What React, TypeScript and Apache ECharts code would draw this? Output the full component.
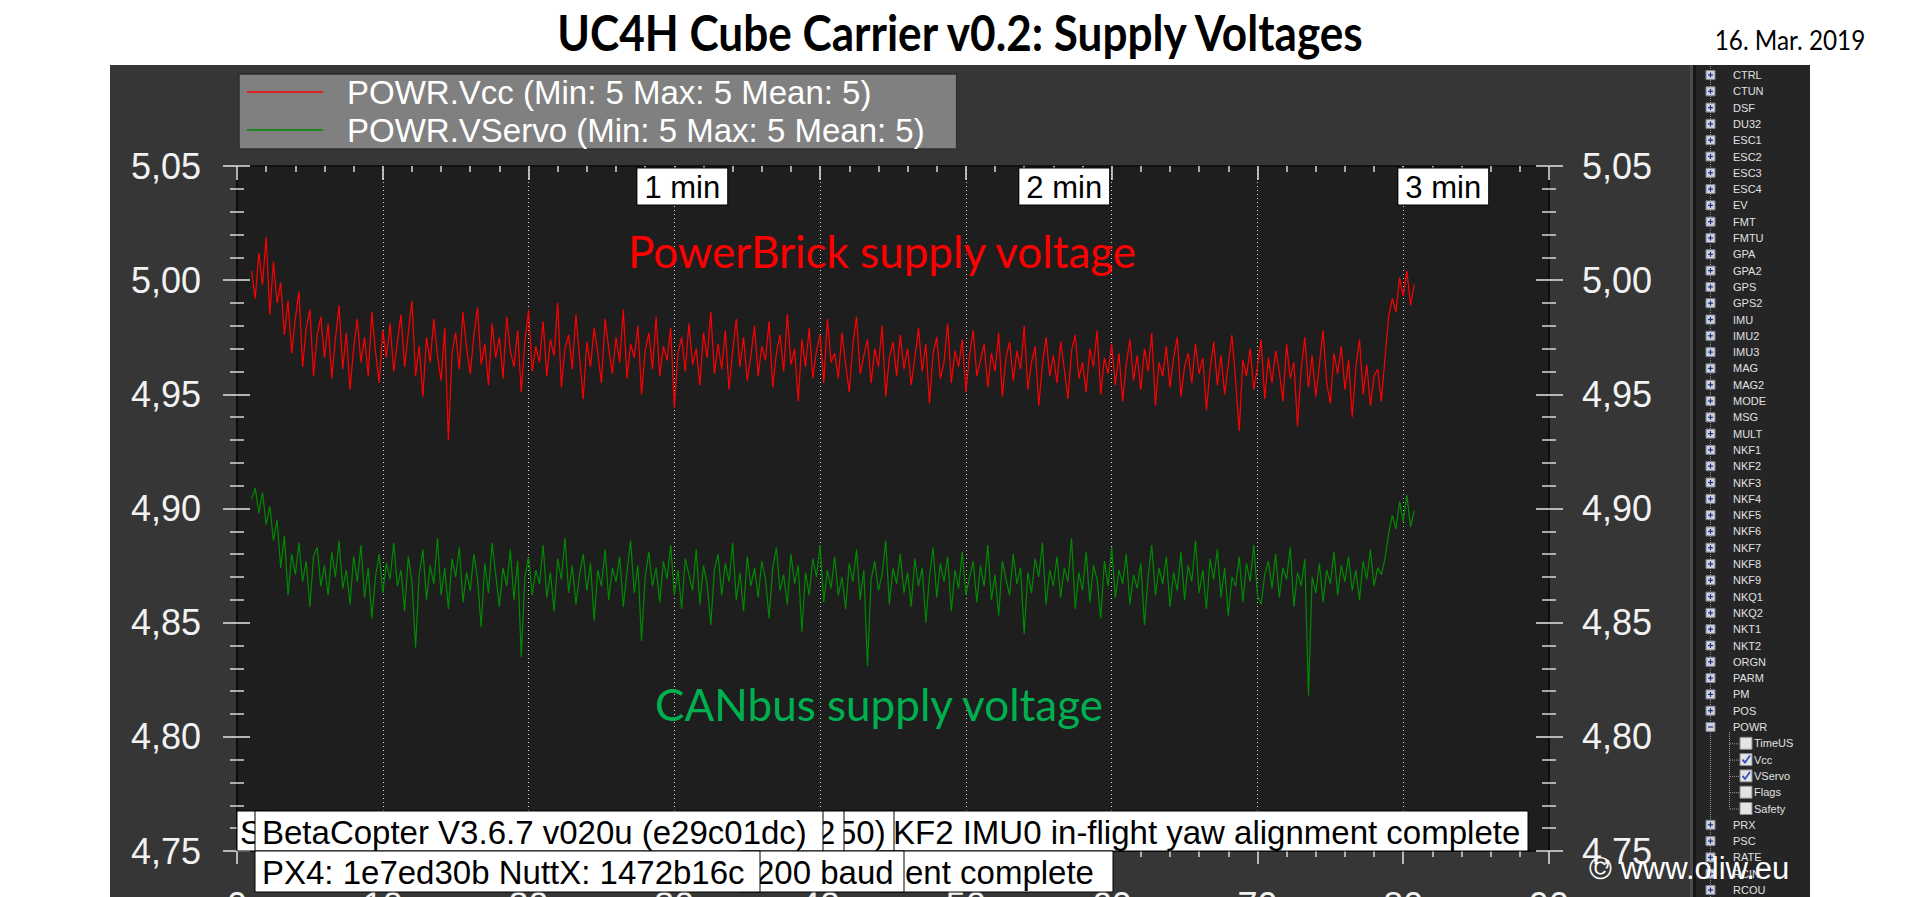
import React, { useEffect, useRef } from 'react';
import * as echarts from 'echarts';

// ---------- DATA ----------
const sampleStartX = 1.0;
const sampleStepX = 0.25;

const vccName = 'POWR.Vcc (Min: 5 Max: 5 Mean: 5)';
const vservoName = 'POWR.VServo (Min: 5 Max: 5 Mean: 5)';

const vccVolts = [
  5.004, 4.992, 5.012, 4.998, 5.019, 4.985, 5.008, 4.990, 4.999, 4.976, 4.991, 4.968, 4.983, 4.995, 4.962, 4.979, 4.987, 4.958, 4.976, 4.984,
  4.966, 4.981, 4.957, 4.974, 4.989, 4.961, 4.977, 4.952, 4.970, 4.983, 4.964, 4.975, 4.958, 4.986, 4.969, 4.955, 4.978, 4.966, 4.981, 4.960,
  4.973, 4.985, 4.962, 4.977, 4.991, 4.958, 4.971, 4.949, 4.975, 4.964, 4.983, 4.967, 4.956, 4.979, 4.930, 4.968, 4.977, 4.961, 4.986, 4.970,
  4.959, 4.976, 4.988, 4.963, 4.972, 4.954, 4.981, 4.966, 4.975, 4.957, 4.984, 4.969, 4.962, 4.978, 4.951, 4.973, 4.987, 4.960, 4.971, 4.964,
  4.982, 4.958, 4.974, 4.967, 4.990, 4.953, 4.970, 4.976, 4.961, 4.985, 4.966, 4.948, 4.973, 4.962, 4.979, 4.968, 4.955, 4.983, 4.970, 4.959,
  4.975, 4.964, 4.987, 4.957, 4.972, 4.966, 4.980, 4.950, 4.969, 4.977, 4.961, 4.984, 4.958, 4.971, 4.965, 4.979, 4.944, 4.968, 4.975, 4.960,
  4.981, 4.963, 4.970, 4.954, 4.977, 4.966, 4.986, 4.959, 4.972, 4.961, 4.978, 4.952, 4.969, 4.983, 4.962, 4.975, 4.956, 4.967, 4.980, 4.958,
  4.971, 4.965, 4.982, 4.953, 4.968, 4.976, 4.960, 4.985, 4.963, 4.970, 4.947, 4.974, 4.962, 4.979, 4.957, 4.969, 4.976, 4.955, 4.983, 4.964,
  4.968, 4.957, 4.977, 4.963, 4.951, 4.972, 4.984, 4.959, 4.967, 4.974, 4.955, 4.970, 4.962, 4.980, 4.949, 4.966, 4.973, 4.958, 4.976, 4.961,
  4.970, 4.954, 4.966, 4.979, 4.960, 4.972, 4.946, 4.968, 4.975, 4.957, 4.964, 4.981, 4.955, 4.969, 4.962, 4.974, 4.951, 4.967, 4.978, 4.958,
  4.965, 4.972, 4.953, 4.968, 4.960, 4.977, 4.949, 4.966, 4.973, 4.956, 4.969, 4.961, 4.980, 4.952, 4.964, 4.971, 4.945, 4.963, 4.975, 4.958,
  4.967, 4.955, 4.973, 4.961, 4.948, 4.969, 4.976, 4.957, 4.964, 4.951, 4.970, 4.962, 4.978, 4.950, 4.966, 4.959, 4.972, 4.954, 4.968, 4.947,
  4.963, 4.974, 4.956, 4.967, 4.952, 4.970, 4.960, 4.977, 4.945, 4.964, 4.958, 4.971, 4.953, 4.966, 4.975, 4.949, 4.962, 4.968, 4.955, 4.972,
  4.959, 4.966, 4.943, 4.961, 4.973, 4.954, 4.967, 4.950, 4.963, 4.976, 4.956, 4.934, 4.965, 4.958, 4.970, 4.952, 4.962, 4.974, 4.948, 4.966,
  4.955, 4.969, 4.960, 4.947, 4.972, 4.957, 4.964, 4.936, 4.961, 4.975, 4.953, 4.967, 4.949, 4.963, 4.978, 4.955, 4.946, 4.968, 4.959, 4.971,
  4.952, 4.965, 4.940, 4.962, 4.974, 4.950, 4.963, 4.945, 4.958, 4.961, 4.947, 4.966, 4.984, 4.992, 4.986, 5.001, 4.993, 5.004, 4.989, 4.998,
];

const vservoVolts = [
  4.904, 4.909, 4.898, 4.907, 4.893, 4.901, 4.886, 4.895, 4.874, 4.888, 4.862, 4.880, 4.871, 4.885, 4.868, 4.877, 4.857, 4.879, 4.883, 4.866,
  4.875, 4.862, 4.881, 4.870, 4.886, 4.865, 4.873, 4.858, 4.879, 4.868, 4.884, 4.861, 4.874, 4.852, 4.870, 4.880, 4.863, 4.876, 4.869, 4.885,
  4.866, 4.873, 4.855, 4.879, 4.868, 4.839, 4.871, 4.882, 4.860, 4.875, 4.867, 4.887, 4.862, 4.874, 4.856, 4.878, 4.870, 4.883, 4.859, 4.872,
  4.864, 4.880, 4.869, 4.848, 4.876, 4.863, 4.885, 4.871, 4.857, 4.874, 4.866, 4.882, 4.860, 4.877, 4.835, 4.870, 4.879, 4.862, 4.873, 4.867,
  4.884, 4.861, 4.872, 4.855, 4.878, 4.869, 4.887, 4.863, 4.875, 4.858, 4.871, 4.880, 4.864, 4.876, 4.851, 4.873, 4.866, 4.882, 4.860, 4.874,
  4.868, 4.879, 4.857, 4.872, 4.886, 4.863, 4.875, 4.842, 4.870, 4.881, 4.866, 4.874, 4.859, 4.877, 4.869, 4.884, 4.862, 4.873, 4.856, 4.878,
  4.871, 4.864, 4.882, 4.858, 4.875, 4.867, 4.849, 4.873, 4.880, 4.862, 4.876, 4.868, 4.885, 4.860, 4.872, 4.855, 4.879, 4.866, 4.874, 4.861,
  4.877, 4.869, 4.852, 4.874, 4.883, 4.864, 4.871, 4.858, 4.880, 4.867, 4.875, 4.846, 4.872, 4.862, 4.878, 4.870, 4.884, 4.859, 4.873, 4.865,
  4.879, 4.862, 4.870, 4.856, 4.876, 4.868, 4.882, 4.860, 4.873, 4.831, 4.869, 4.877, 4.864, 4.871, 4.886, 4.858, 4.874, 4.867, 4.880, 4.863,
  4.872, 4.857, 4.878, 4.866, 4.874, 4.850, 4.870, 4.883, 4.861, 4.876, 4.868, 4.879, 4.855, 4.873, 4.865, 4.881, 4.862, 4.870, 4.877, 4.859,
  4.875, 4.866, 4.884, 4.860, 4.871, 4.853, 4.877, 4.869, 4.862, 4.880, 4.867, 4.874, 4.845, 4.872, 4.863, 4.878, 4.870, 4.885, 4.858, 4.873,
  4.866, 4.879, 4.861, 4.874, 4.868, 4.887, 4.856, 4.872, 4.864, 4.881, 4.859, 4.875, 4.869, 4.852, 4.877, 4.866, 4.883, 4.861, 4.873, 4.867,
  4.880, 4.858, 4.871, 4.865, 4.876, 4.849, 4.870, 4.884, 4.862, 4.874, 4.867, 4.879, 4.857, 4.872, 4.864, 4.881, 4.860, 4.875, 4.868, 4.886,
  4.863, 4.873, 4.856, 4.878, 4.869, 4.882, 4.861, 4.874, 4.853, 4.870, 4.866, 4.879, 4.859, 4.876, 4.868, 4.884, 4.862, 4.858, 4.871, 4.877,
  4.865, 4.880, 4.861, 4.874, 4.869, 4.883, 4.857, 4.872, 4.866, 4.878, 4.818, 4.870, 4.863, 4.876, 4.859, 4.873, 4.867, 4.881, 4.862, 4.875,
  4.868, 4.879, 4.864, 4.873, 4.860, 4.877, 4.869, 4.882, 4.866, 4.874, 4.871, 4.878, 4.889, 4.897, 4.891, 4.903, 4.894, 4.906, 4.892, 4.899,
];

const timeMarkerLabels = ['1 min', '2 min', '3 min'];
const timeMarkerX = [27.5, 53.7, 79.7];

const titleText = 'UC4H Cube Carrier v0.2: Supply Voltages';
const dateText = '16. Mar. 2019';
const vccNote = 'PowerBrick supply voltage';
const vservoNote = 'CANbus supply voltage';
const copyrightText = '\u00a9 www.oliw.eu';

const treeItems = [
  'CTRL', 'CTUN', 'DSF', 'DU32', 'ESC1', 'ESC2', 'ESC3', 'ESC4', 'EV', 'FMT', 'FMTU', 'GPA', 'GPA2', 'GPS', 'GPS2',
  'IMU', 'IMU2', 'IMU3', 'MAG', 'MAG2', 'MODE', 'MSG', 'MULT', 'NKF1', 'NKF2', 'NKF3', 'NKF4', 'NKF5', 'NKF6', 'NKF7',
  'NKF8', 'NKF9', 'NKQ1', 'NKQ2', 'NKT1', 'NKT2', 'ORGN', 'PARM', 'PM', 'POS', 'POWR',
];
const powrFields = ['TimeUS', 'Vcc', 'VServo', 'Flags', 'Safety'];
const powrChecked = [false, true, true, false, false];
const treeItemsAfter = ['PRX', 'PSC', 'RATE', 'RCIN', 'RCOU'];

const msgRow1 = ['KF2 IMU0 in-flight yaw alignment complete', '50)', '2', 'S', 'BetaCopter V3.6.7 v020u (e29c01dc)'];
const msgRow2 = ['ent complete', '200 baud', 'PX4: 1e7ed30b NuttX: 1472b16c'];

// ---------- STYLE / LAYOUT ----------
const UI = '"Liberation Sans", Arial, sans-serif';
const PPT = 'Lato, "Open Sans", sans-serif';
const fmtY = (v: number) => v.toFixed(2).replace('.', ',');

function buildGraphic() {
  const g: any[] = [];
  // Mission Planner graph panel background
  g.push({ type: 'rect', z: -5, shape: { x: 110, y: 65, width: 1580, height: 832 }, style: { fill: '#363636' } });

  // Title & date
  g.push({ type: 'text', z: 5, x: 960, y: 32, scaleX: 0.9, style: { text: titleText, fill: '#000', fontSize: 49, fontWeight: 'bold', fontFamily: PPT, align: 'center', verticalAlign: 'middle' } });
  g.push({ type: 'text', z: 5, x: 1790, y: 39, scaleX: 0.9, style: { text: dateText, fill: '#000', fontSize: 27, fontFamily: PPT, align: 'center', verticalAlign: 'middle' } });

  // annotations
  g.push({ type: 'text', z: 8, x: 882, y: 251, style: { text: vccNote, fill: '#ff0000', fontSize: 44, fontFamily: PPT, align: 'center', verticalAlign: 'middle' } });
  g.push({ type: 'text', z: 8, x: 879, y: 704, style: { text: vservoNote, fill: '#00b050', fontSize: 44, fontFamily: PPT, align: 'center', verticalAlign: 'middle' } });

  // Tree panel
  const tx = 1690;
  g.push({ type: 'rect', z: 10, shape: { x: tx, y: 65, width: 120, height: 832 }, style: { fill: '#252526' } });
  g.push({ type: 'rect', z: 10, shape: { x: tx, y: 65, width: 3, height: 832 }, style: { fill: '#4a4a4a' } });
  g.push({ type: 'rect', z: 10, shape: { x: tx + 3, y: 65, width: 3, height: 832 }, style: { fill: '#161616' } });
  g.push({ type: 'line', z: 11, shape: { x1: 1710.5, y1: 66, x2: 1710.5, y2: 897 }, style: { stroke: '#8c8c8c', lineWidth: 1, lineDash: [1, 1] } });
  const y0 = 75;
  const step = 16.3;
  const expander = (y: number, plus: boolean) => {
    g.push({ type: 'rect', z: 12, shape: { x: 1706, y: y - 4.5, width: 9, height: 9 }, style: { fill: '#cfd3dc', stroke: '#7d8595', lineWidth: 1 } });
    g.push({ type: 'line', z: 13, shape: { x1: 1708, y1: y, x2: 1713, y2: y }, style: { stroke: '#1c2f80', lineWidth: 1.2 } });
    if (plus) g.push({ type: 'line', z: 13, shape: { x1: 1710.5, y1: y - 2.5, x2: 1710.5, y2: y + 2.5 }, style: { stroke: '#1c2f80', lineWidth: 1.2 } });
  };
  const label = (x: number, y: number, t: string) =>
    g.push({ type: 'text', z: 13, x, y, style: { text: t, fill: '#e0e0e0', fontSize: 11, fontFamily: UI, align: 'left', verticalAlign: 'middle' } });
  treeItems.forEach((t, i) => {
    const y = y0 + i * step;
    expander(y, t !== 'POWR');
    label(1733, y, t);
  });
  const powrY = y0 + (treeItems.length - 1) * step;
  g.push({ type: 'line', z: 11, shape: { x1: 1729.5, y1: powrY + 5, x2: 1729.5, y2: powrY + powrFields.length * step }, style: { stroke: '#9a9a9a', lineWidth: 1, lineDash: [1, 1] } });
  powrFields.forEach((t, i) => {
    const y = powrY + (i + 1) * step;
    g.push({ type: 'line', z: 11, shape: { x1: 1730, y1: y + 0.5, x2: 1740, y2: y + 0.5 }, style: { stroke: '#9a9a9a', lineWidth: 1, lineDash: [1, 1] } });
    g.push({ type: 'rect', z: 12, shape: { x: 1740, y: y - 6, width: 12, height: 12 }, style: { fill: '#e4e4e4', stroke: '#8a8a8a', lineWidth: 1 } });
    if (powrChecked[i]) {
      g.push({ type: 'polyline', z: 13, shape: { points: [[1742.5, y], [1745, y + 3], [1750, y - 4]] }, style: { stroke: '#2a4fc4', lineWidth: 1.8, fill: 'none' } });
    }
    label(1754, y, t);
  });
  treeItemsAfter.forEach((t, i) => {
    const y = powrY + (powrFields.length + 1 + i) * step;
    expander(y, true);
    label(1733, y, t);
  });

  // Message boxes (drawn from back to front)
  const box = (x: number, y: number, w: number, h: number, t: string, textX: number) => {
    g.push({ type: 'rect', z: 20, shape: { x, y, width: w, height: h }, style: { fill: '#ffffff', stroke: '#000', lineWidth: 1 } });
    g.push({ type: 'text', z: 20, x: textX, y: y + h / 2 + 1, style: { text: t, fill: '#000', fontSize: 33, fontFamily: UI, align: 'left', verticalAlign: 'middle' } });
  };
  const r1y = 811, r1h = 40, r2y = 851, r2h = 41;
  box(890, r1y, 638, r1h, msgRow1[0], 893);
  box(838, r1y, 56, r1h, msgRow1[1], 838);
  box(815, r1y, 29, r1h, msgRow1[2], 817);
  box(237, r1y, 30, r1h, msgRow1[3], 240);
  box(255, r1y, 568, r1h, msgRow1[4], 262);
  box(880, r2y, 233, r2h, msgRow2[0], 905);
  box(740, r2y, 164, r2h, msgRow2[1], 756);
  box(255, r2y, 505, r2h, msgRow2[2], 262);

  // copyright
  g.push({ type: 'text', z: 30, x: 1589, y: 868, style: { text: copyrightText, fill: '#ffffff', fontSize: 31, fontFamily: UI, align: 'left', verticalAlign: 'middle' } });
  return g;
}

const tickColor = '#e6e6e6';
const labelColor = '#f2f2f2';

function yAxisDef(position: 'left' | 'right', withLabels: boolean, inside: boolean) {
  return {
    type: 'value',
    position,
    min: 4.75,
    max: 5.05,
    interval: 0.05,
    axisLine: { show: true, lineStyle: { color: '#0a0a0a', width: 1.5 } },
    axisTick: { show: true, inside, length: inside ? 13 : 14, lineStyle: { color: tickColor, width: 1.5 } },
    minorTick: { show: true, splitNumber: 5, length: 7, lineStyle: { color: '#d8d8d8', width: 1.5 } },
    axisLabel: {
      show: withLabels,
      formatter: fmtY,
      color: labelColor,
      fontSize: 36,
      fontFamily: UI,
      margin: position === 'left' ? 36 : 33,
    },
    splitLine: { show: false },
  };
}

export default function App() {
  const ref = useRef<HTMLDivElement>(null);
  useEffect(() => {
    document.body.style.margin = '0';
    const chart = echarts.init(ref.current!, null, { renderer: 'svg' });
    const vccData = vccVolts.map((v, i) => [sampleStartX + i * sampleStepX, v]);
    const vservoData = vservoVolts.map((v, i) => [sampleStartX + i * sampleStepX, v]);
    const markerData = timeMarkerLabels.map((n, i) => ({ name: n, value: [timeMarkerX[i], 5.05] }));

    chart.setOption({
      animation: false,
      backgroundColor: '#ffffff',
      grid: {
        left: 237,
        top: 166,
        width: 1312,
        height: 685,
        show: true,
        backgroundColor: '#1e1e1e',
        borderWidth: 0,
        containLabel: false,
        outerBoundsMode: 'none',
      },
      legend: {
        show: true,
        orient: 'vertical',
        left: 239,
        top: 74,
        data: [vccName, vservoName],
        icon: 'rect',
        itemWidth: 76,
        itemHeight: 1.5,
        itemGap: 2,
        selectedMode: false,
        backgroundColor: '#808080',
        borderColor: '#2e2e2e',
        borderWidth: 1.5,
        padding: [0, 32, 1, 8],
        textStyle: { color: '#ffffff', fontSize: 33, fontFamily: UI, lineHeight: 36, padding: [0, 0, 0, 19] },
      },
      xAxis: [
        {
          type: 'value',
          position: 'bottom',
          min: 0,
          max: 90,
          interval: 10,
          axisLine: { show: true, lineStyle: { color: '#0a0a0a', width: 1.5 } },
          axisTick: { show: true, inside: false, length: 13, lineStyle: { color: tickColor, width: 1.5 } },
          minorTick: { show: true, splitNumber: 5, length: 6, lineStyle: { color: '#d8d8d8', width: 1.5 } },
          axisLabel: { show: true, color: labelColor, fontSize: 36, fontFamily: UI, margin: 36 },
          splitLine: { show: true, lineStyle: { color: '#d0d0d0', width: 1, type: [1, 3] } },
        },
        {
          type: 'value',
          position: 'top',
          min: 0,
          max: 90,
          interval: 10,
          axisLine: { show: true, lineStyle: { color: '#0a0a0a', width: 1.5 } },
          axisTick: { show: true, inside: true, length: 14, lineStyle: { color: tickColor, width: 1.5 } },
          minorTick: { show: true, splitNumber: 5, length: 6, lineStyle: { color: '#d8d8d8', width: 1.5 } },
          axisLabel: { show: false },
          splitLine: { show: false },
        },
      ],
      yAxis: [
        yAxisDef('left', true, false),
        yAxisDef('left', false, true),
        yAxisDef('right', true, false),
        yAxisDef('right', false, true),
      ],
      series: [
        {
          name: vccName,
          type: 'line',
          data: vccData,
          showSymbol: false,
          symbol: 'none',
          color: '#ff0000',
          lineStyle: { color: '#ff0000', width: 1.2 },
          emphasis: { disabled: true },
          z: 3,
        },
        {
          name: vservoName,
          type: 'line',
          data: vservoData,
          showSymbol: false,
          symbol: 'none',
          color: '#008a00',
          lineStyle: { color: '#008a00', width: 1.2 },
          emphasis: { disabled: true },
          z: 3,
        },
        {
          name: 'time markers',
          type: 'scatter',
          data: markerData,
          symbolSize: 1,
          itemStyle: { color: 'rgba(0,0,0,0)', opacity: 1 },
          clip: false,
          silent: true,
          z: 6,
          label: {
            show: true,
            formatter: '{b}',
            position: [0, 3],
            align: 'left',
            verticalAlign: 'top',
            color: '#000',
            opacity: 1,
            fontSize: 31,
            fontFamily: UI,
            lineHeight: 33,
            backgroundColor: '#ffffff',
            borderColor: '#000',
            borderWidth: 1,
            padding: [2, 7, 1, 7],
          },
        },
      ],
      graphic: buildGraphic(),
    });
    return () => chart.dispose();
  }, []);
  return <div ref={ref} style={{ position: 'fixed', left: 0, top: 0, width: 1920, height: 897 }} />;
}
